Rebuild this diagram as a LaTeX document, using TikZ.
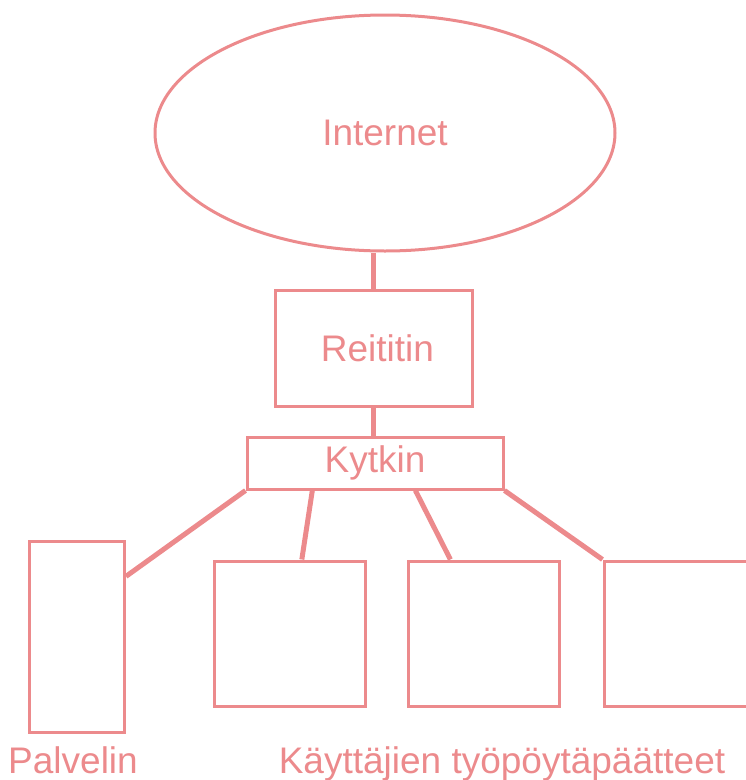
\documentclass[tikz,border=0pt]{standalone}
\usepackage{fontspec}
\setmainfont{Liberation Sans}
\usetikzlibrary{shapes.geometric,calc}
\definecolor{salmon}{RGB}{236,138,140}
\begin{document}
\begin{tikzpicture}[x=1pt,y=-1pt,
  box/.style={draw=salmon,line width=3pt,rectangle,inner sep=0pt,text=salmon,font=\fontsize{37}{42}\selectfont},
  conn/.style={draw=salmon,line width=5pt},
  lbl/.style={text=salmon,inner sep=0pt,anchor=base,font=\fontsize{37}{42}\selectfont}]
\useasboundingbox (0,0) rectangle (746,780);
\node[box,ellipse,minimum width=460pt,minimum height=236pt] (inet) at (385,133) {Internet};
\node[box,minimum width=197pt,minimum height=116pt] (rt) at (373.5,348) {\hspace{8pt}Reititin};
\node[box,minimum width=256pt,minimum height=52pt] (kt) at (375,463) {Kytkin};
\node[box,minimum width=95pt,minimum height=191pt] (pal) at (77,636.5) {};
\node[box,minimum width=151pt,minimum height=145pt] (b1) at (289.5,633.5) {};
\node[box,minimum width=151pt,minimum height=145pt] (b2) at (483.5,633.5) {};
\node[box,minimum width=200pt,minimum height=145pt] (b3) at (704,633.5) {};
\draw[conn] (rt.north) -- (rt.north |- inet.south);
\draw[conn] (rt.south) -- (rt.south |- kt.north);
\draw[conn] (kt.south west) -- ($(pal.north east)!0.19!(pal.south east)$);
\draw[conn] ($(kt.south west)!0.258!(kt.south east)$) -- ($(b1.north west)!0.58!(b1.north east)$);
\draw[conn] ($(kt.south west)!0.656!(kt.south east)$) -- ($(b2.north west)!0.285!(b2.north east)$);
\draw[conn] (kt.south east) -- (b3.north west);
\node[lbl] (lp) at (73,773) {Palvelin};
\node[lbl] (lk) at (502,773) {Käyttäjien työpöytäpäätteet};
\end{tikzpicture}
\end{document}
